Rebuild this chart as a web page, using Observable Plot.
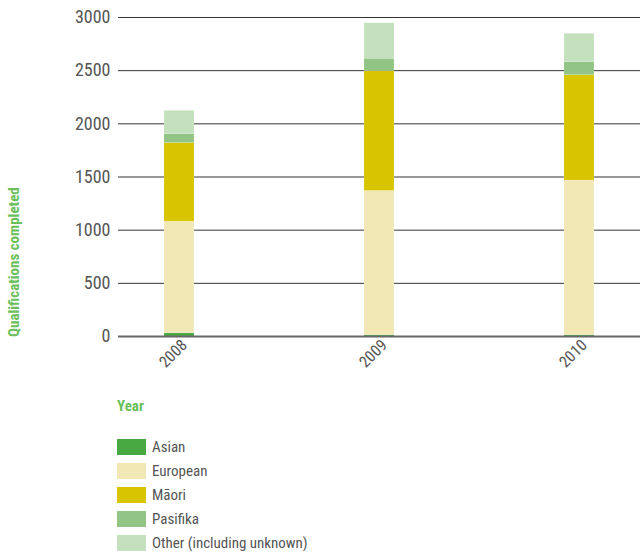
<!DOCTYPE html>
<html>
<head>
<meta charset="utf-8">
<script src="https://cdn.jsdelivr.net/npm/d3@7"></script>
<script src="https://cdn.jsdelivr.net/npm/@observablehq/plot@0.6"></script>
<style>
  body { margin: 0; background: #fff; }
  #wrap { position: relative; width: 640px; height: 552px; font-family: "Liberation Sans Narrow", "Roboto Condensed", "DejaVu Sans Condensed", "Liberation Sans", sans-serif; font-stretch: condensed; }
  #legend { position: absolute; left: 117px; top: 397px; }
  #legend .title { color: #6abf5a; font-weight: bold; font-size: 15px; line-height: 18px; margin-bottom: 20px; }
  #legend .item { display: flex; align-items: center; height: 24px; color: #555; font-size: 15px; }
  #legend .sw { width: 29px; height: 16px; margin-right: 6px; }
</style>
</head>
<body>
<div id="wrap"><div id="chart"></div><div id="legend"></div></div>
<script>
const years = ["2008", "2009", "2010"];
const series = ["Asian", "European", "Māori", "Pasifika", "Other (including unknown)"];
const colors = ["#48a842", "#f2e8b6", "#d8c400", "#92c585", "#c5e0bd"];
const asian    = [30, 12, 12];
const european = [1050, 1357, 1455];
const maori    = [740, 1126, 990];
const pasifika = [82, 117, 123];
const other    = [220, 334, 266];
const yTicks = [0, 500, 1000, 1500, 2000, 2500, 3000];
const yLabel = "Qualifications completed";
const legendTitle = "Year";

const valuesBySeries = [asian, european, maori, pasifika, other];
const data = [];
series.forEach((s, si) => years.forEach((y, yi) => data.push({year: y, series: s, value: valuesBySeries[si][yi]})));

const font = '"Liberation Sans Narrow", "Roboto Condensed", "DejaVu Sans Condensed", sans-serif';

const chart = Plot.plot({
  width: 640,
  height: 390,
  marginLeft: 118,
  marginRight: 0,
  marginTop: 17,
  marginBottom: 54,
  style: {fontFamily: font, fontSize: "18px", color: "#555", background: "#fff"},
  x: {domain: years, paddingInner: 0.85, paddingOuter: 0.23, label: null},
  y: {domain: [0, 3000], ticks: yTicks, label: null},
  color: {domain: series, range: colors},
  marks: [
    Plot.ruleY(yTicks.filter(d => d > 0), {stroke: "#333", strokeWidth: 1}),
    Plot.barY(data, {x: "year", y: "value", fill: "series", order: series, stroke: "#fff", strokeOpacity: 0.25, strokeWidth: 0.5}),
    Plot.ruleY([0], {stroke: "#666", strokeWidth: 2}),
    Plot.axisY({ticks: yTicks, tickSize: 0, tickPadding: 8, fontSize: 18, tickFormat: d => String(d), label: null}),
    Plot.axisX({tickSize: 0, tickRotate: -45, tickPadding: 6, fontSize: 16, label: null, dx: 5})
  ]
});
document.getElementById("chart").appendChild(chart);

// Y axis label anchored at the bottom
d3.select(chart).append("text")
  .attr("transform", "translate(19,337) rotate(-90)")
  .attr("text-anchor", "start")
  .attr("fill", "#6abf5a")
  .attr("font-weight", "bold")
  .attr("font-size", 15)
  .attr("font-family", font)
  .text(yLabel);

// Legend
const lg = d3.select("#legend");
lg.append("div").attr("class", "title").text(legendTitle);
series.forEach((s, i) => {
  const it = lg.append("div").attr("class", "item");
  it.append("div").attr("class", "sw").style("background", colors[i]);
  it.append("span").text(s);
});
</script>
</body>
</html>
